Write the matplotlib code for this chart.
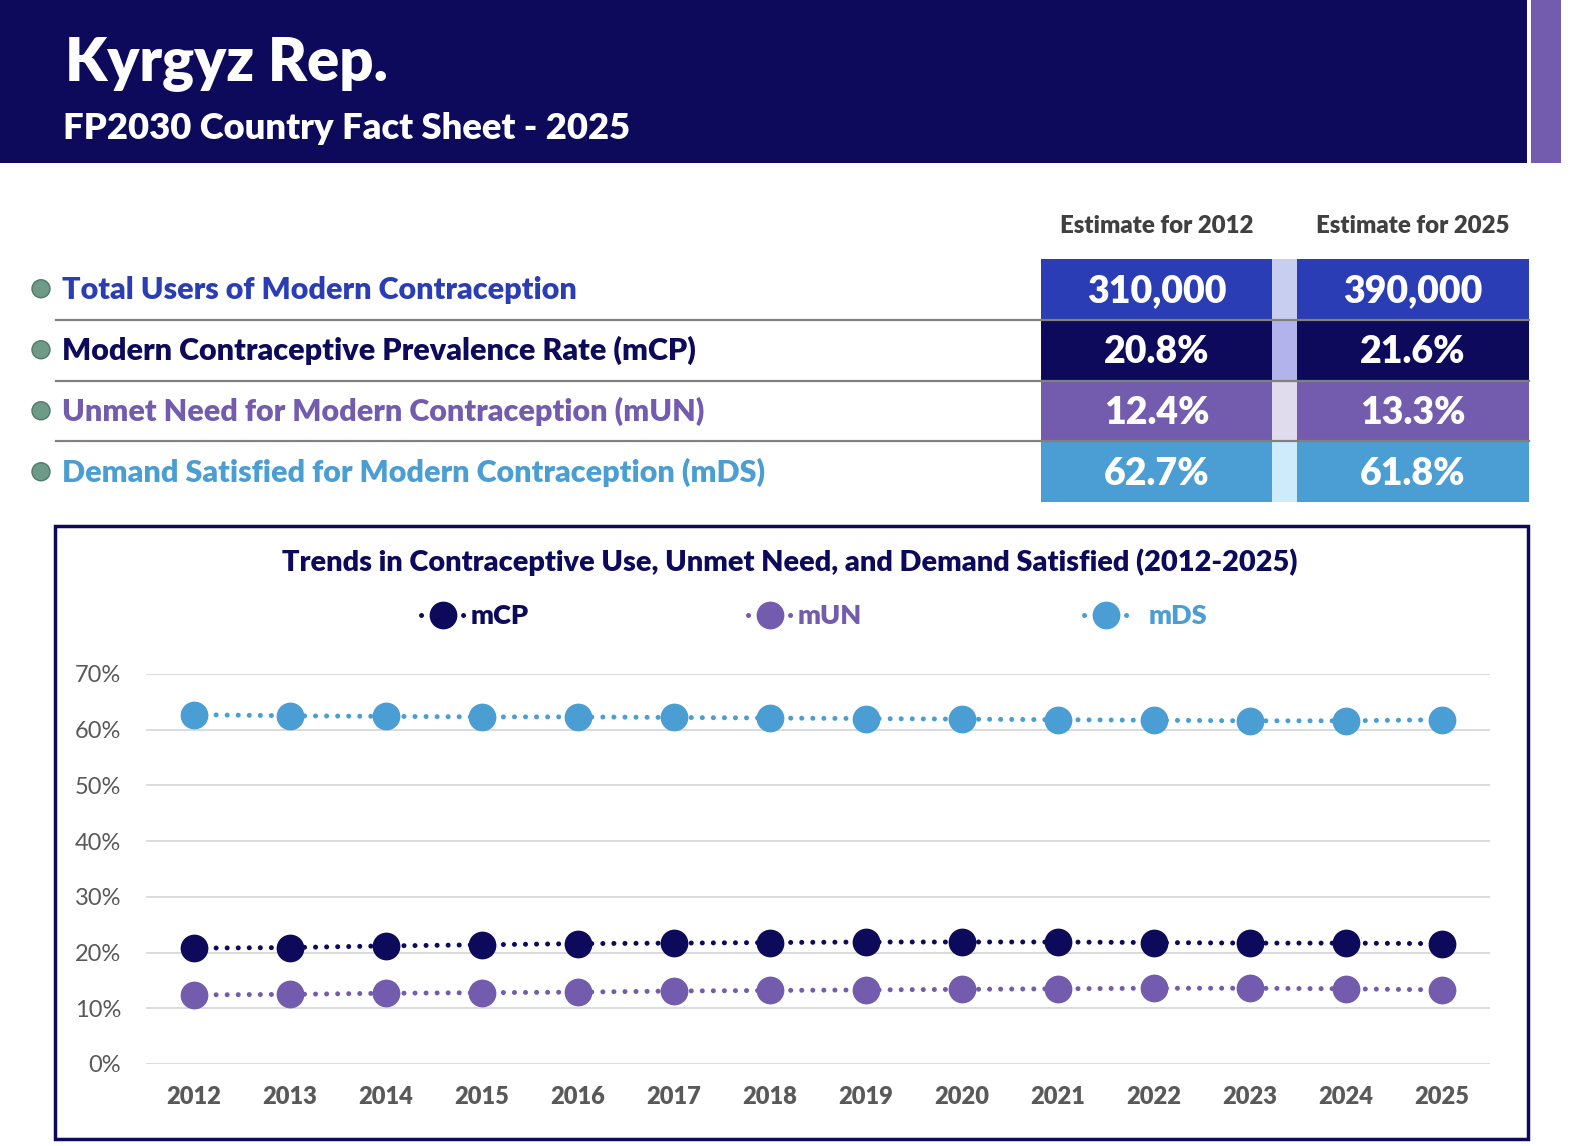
import matplotlib
matplotlib.use("Agg")
import matplotlib.pyplot as plt
from matplotlib.patches import Rectangle, Circle
from matplotlib.lines import Line2D

plt.rcParams['font.family'] = ['Lato', 'DejaVu Sans']

# colours
NAVY = '#0D0A5C'
BLUE = '#2A3DB5'
PURPLE = '#735CAD'
SKY = '#4A9ED3'
GRAY = '#595959'

# header
country = 'Kyrgyz Rep.'
subtitle = 'FP2030 Country Fact Sheet - 2025'

# summary table
col_heads = ['Estimate for 2012', 'Estimate for 2025']
row_labels = ['Total Users of Modern Contraception',
              'Modern Contraceptive Prevalence Rate (mCP)',
              'Unmet Need for Modern Contraception (mUN)',
              'Demand Satisfied for Modern Contraception (mDS)']
vals_2012 = ['310,000', '20.8%', '12.4%', '62.7%']
vals_2025 = ['390,000', '21.6%', '13.3%', '61.8%']
row_colors = [BLUE, NAVY, PURPLE, SKY]
gap_colors = ['#C8CEF0', '#B3B3EC', '#E0DCEE', '#CDEBFA']

# trend chart
chart_title = 'Trends in Contraceptive Use, Unmet Need, and Demand Satisfied (2012-2025)'
years = [2012, 2013, 2014, 2015, 2016, 2017, 2018, 2019, 2020, 2021, 2022, 2023, 2024, 2025]
mcp = [20.8, 20.9, 21.2, 21.4, 21.6, 21.7, 21.8, 21.9, 21.9, 21.9, 21.8, 21.7, 21.7, 21.6]
mun = [12.4, 12.5, 12.7, 12.8, 12.9, 13.1, 13.2, 13.3, 13.4, 13.5, 13.6, 13.6, 13.5, 13.3]
mds = [62.7, 62.5, 62.4, 62.3, 62.3, 62.2, 62.1, 62.0, 61.9, 61.8, 61.7, 61.6, 61.6, 61.8]
series_names = ['mCP', 'mUN', 'mDS']
series_colors = [NAVY, PURPLE, SKY]

W, H = 1576, 1146
fig = plt.figure(figsize=(W / 100, H / 100), dpi=100)
bg = fig.add_axes([0, 0, 1, 1])
bg.set_xlim(0, W)
bg.set_ylim(H, 0)
bg.axis('off')

# header band
bg.add_patch(Rectangle((0, 0), 1527, 163, color=NAVY, lw=0))
bg.add_patch(Rectangle((1531, 0), 30, 163, color=PURPLE, lw=0))
bg.text(65, 80, country, color='white', fontsize=43, fontweight='heavy', va='baseline')
bg.text(63, 139, subtitle, color='white', fontsize=26.2, fontweight='heavy', va='baseline')

# table
c1x, c2x, cw = 1041, 1297, 232
gx = 1272
row_top = [259, 320, 381, 442]
row_h = 59.5
for x, head in zip([c1x, c2x], col_heads):
    bg.text(x + cw / 2, 226, head, color='#404040', fontsize=17.3,
            fontweight='heavy', ha='center', va='center')
for i, lab in enumerate(row_labels):
    y0 = row_top[i]
    yc = y0 + row_h / 2
    bg.add_patch(Rectangle((c1x, y0), cw, row_h, color=row_colors[i], lw=0))
    bg.add_patch(Rectangle((c2x, y0), cw, row_h, color=row_colors[i], lw=0))
    bg.add_patch(Rectangle((gx, y0), c2x - gx, row_h, color=gap_colors[i], lw=0))
    bg.text(c1x + cw / 2, yc + 2, vals_2012[i], color='white', fontsize=27,
            fontweight='heavy', ha='center', va='center')
    bg.text(c2x + cw / 2, yc + 2, vals_2025[i], color='white', fontsize=27,
            fontweight='heavy', ha='center', va='center')
    bg.add_patch(Circle((41, yc), 9, facecolor='#6E9A88', edgecolor='#4F7A68', lw=1))
    bg.text(62, yc + 1, lab, color=row_colors[i], fontsize=22,
            fontweight='heavy', va='center')
for y in [319.5, 380.5, 441]:
    bg.plot([56, 1529], [y, y], color='#808080', lw=1.6)

# chart frame and title
bg.add_patch(Rectangle((55, 526), 1473, 613, fill=False, edgecolor=NAVY, lw=2.5))
bg.text(790, 562, chart_title, color=NAVY, fontsize=20.8, fontweight='heavy',
        ha='center', va='center')

ax = fig.add_axes([146 / W, 1 - 1064 / H, (1490 - 146) / W, (1064 - 674) / H])
ax.set_xlim(2011.5, 2025.5)
ax.set_ylim(0, 70)
ax.set_yticks(range(0, 71, 10))
ax.set_yticklabels([f'{v}%' for v in range(0, 71, 10)])
ax.set_xticks(years)
ax.set_xticklabels([str(y) for y in years], fontweight='heavy')
ax.grid(axis='y', color='#D9D9D9', lw=1.3)
ax.set_axisbelow(True)
for s in ax.spines.values():
    s.set_visible(False)
ax.tick_params(axis='y', length=0, pad=18, labelsize=17, labelcolor=GRAY)
ax.tick_params(axis='x', length=0, pad=16, labelsize=17, labelcolor=GRAY)

for vals, col, name in zip([mcp, mun, mds], series_colors, series_names):
    ax.plot(years, vals, color=col, lw=3.6, linestyle=(0, (0.01, 2.2)),
            dash_capstyle='round', marker='o', markersize=20,
            markeredgewidth=0, clip_on=False, label=name)

# legend: one entry per legend so each can sit where the reference puts it
leg_left = [421, 748, 1084]
leg_textpad = [0.25, 0.25, 0.8]
for name, col, x0, tp in zip(series_names, series_colors, leg_left, leg_textpad):
    h = Line2D([], [], color=col, lw=3.6, linestyle=(0, (0.01, 8.4)),
               dash_capstyle='round', marker='o', markersize=20, markeredgewidth=0)
    leg = fig.legend(handles=[h], labels=[name], loc='center left',
                     bbox_to_anchor=(x0 / W, 1 - 616 / H), frameon=False,
                     borderpad=0, borderaxespad=0, handlelength=1.6,
                     handletextpad=tp, prop={'weight': 'heavy', 'size': 19.5})
    leg.get_texts()[0].set_color(col)

fig.savefig('out.png', dpi=100)
